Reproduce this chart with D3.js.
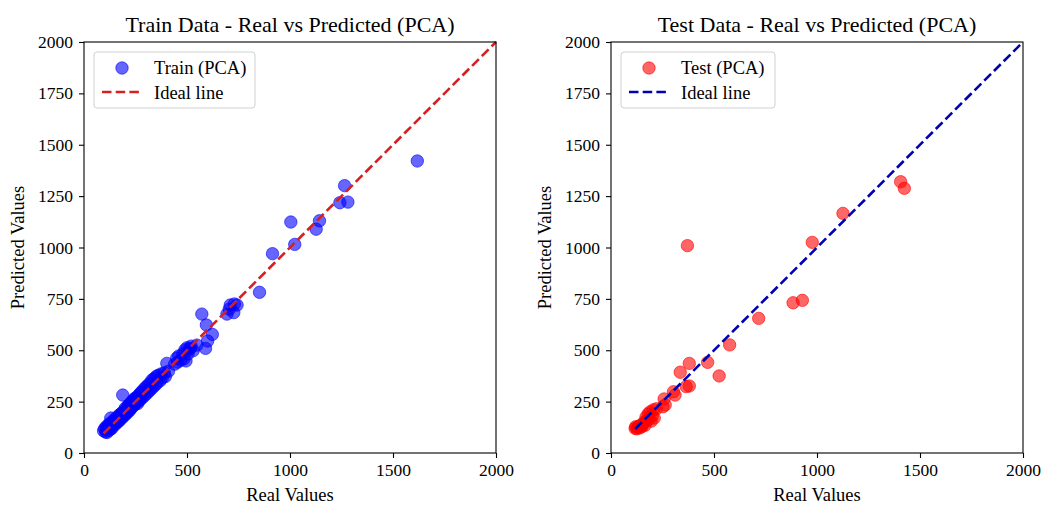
<!DOCTYPE html>
<html>
<head>
<meta charset="utf-8">
<script src="https://cdn.jsdelivr.net/npm/d3@7"></script>
<style>
  body { margin: 0; background: #fff; }
  text { font-family: "Liberation Serif", "Times New Roman", serif; }
</style>
</head>
<body>
<svg id="chart"></svg>
<script>
// train set: [real, predicted]
let trainPoints = [
  [95,108],[100,118],[105,102],[108,128],[110,120],[112,100],[118,130],[120,110],[120,140],[125,132],
  [128,115],[130,145],[130,170],[135,120],[140,155],[142,132],[145,148],[150,165],[152,138],[155,150],
  [160,175],[162,150],[165,168],[170,155],[172,185],[175,168],[180,192],[182,168],[185,195],[188,282],
  [190,176],[195,205],[198,185],[200,218],[205,190],[210,222],[212,200],[215,232],[220,205],[222,238],
  [225,215],[230,248],[232,220],[235,252],[240,230],[242,262],[245,235],[250,268],[255,245],[258,272],
  [260,240],[265,280],[270,255],[272,290],[275,265],[280,298],[285,270],[290,310],[295,280],[300,320],
  [305,290],[310,330],[315,300],[320,340],[325,310],[330,355],[335,320],[340,362],[345,330],[350,372],
  [355,340],[360,378],[370,352],[375,385],[380,365],[390,390],[395,372],[402,436],[410,398],
  [440,432],[450,462],[455,442],[460,472],[470,452],[480,482],[485,458],[490,502],[495,448],[500,512],
  [505,482],[510,505],[516,509],[520,520],[530,498],[548,525],[572,676],[590,509],[594,623],[600,545],
  [623,577],[694,676],[705,700],[710,720],[727,683],[730,725],[743,720],[852,782],[915,970],[1004,1124],
  [1023,1015],[1127,1089],[1143,1130],[1242,1218],[1265,1301],[1281,1221],[1618,1421]
];

// test set: [real, predicted]
let testPoints = [
  [117,120],[120,128],[125,118],[130,125],[135,130],[140,122],[145,135],[150,128],[155,140],[160,150],
  [165,135],[170,175],[175,160],[180,190],[185,165],[190,200],[195,155],[200,180],[205,210],[210,170],
  [220,215],[252,225],[258,263],[263,234],[303,298],[311,282],[336,393],[365,323],[380,326],[380,436],
  [371,1009],[469,441],[525,375],[576,526],[717,655],[884,731],[929,743],[977,1025],[1126,1166],
  [1406,1320],[1424,1288]
];

let trainIdeal = [95, 2000];
let testIdeal = [117, 2000];
let axisTicks = [0, 500, 1000, 1500, 2000];
let yTicks = [0, 250, 500, 750, 1000, 1250, 1500, 1750, 2000];

let width = 1044, height = 506;

const svg = d3.select('#chart')
  .attr('width', width)
  .attr('height', height);

function panel(opts) {
  let x = d3.scaleLinear().domain([0, 2000]).range([opts.left, opts.left + 412]);
  let y = d3.scaleLinear().domain([0, 2000]).range([453, 42]);

  let g = svg.append('g');

  // title
  g.append('text')
    .attr('x', (x.range()[0] + x.range()[1]) / 2)
    .attr('y', 32)
    .attr('text-anchor', 'middle')
    .style('font-size', '22px')
    .text(opts.title);

  // axes
  let xAxis = d3.axisBottom(x).tickValues(axisTicks).tickSize(5).tickPadding(6).tickFormat(d3.format('d'));
  let yAxis = d3.axisLeft(y).tickValues(yTicks).tickSize(5).tickPadding(6).tickFormat(d3.format('d'));

  g.append('g')
    .attr('transform', `translate(0,${y(0)})`)
    .call(xAxis)
    .call(a => a.select('.domain').remove())
    .selectAll('text').style('font-size', '17.5px').style('font-family', '"Liberation Serif", serif').attr('fill', '#000');

  g.append('g')
    .attr('transform', `translate(${x(0)},0)`)
    .call(yAxis)
    .call(a => a.select('.domain').remove())
    .selectAll('text').style('font-size', '17.5px').style('font-family', '"Liberation Serif", serif').attr('fill', '#000');

  g.selectAll('.tick line').attr('stroke', '#000').attr('stroke-width', 1.1);

  // axis labels
  g.append('text')
    .attr('x', (x.range()[0] + x.range()[1]) / 2)
    .attr('y', 501)
    .attr('text-anchor', 'middle')
    .style('font-size', '18.5px')
    .text('Real Values');

  g.append('text')
    .attr('transform', `translate(${opts.left - 60},${(y(0) + y(2000)) / 2}) rotate(-90)`)
    .attr('text-anchor', 'middle')
    .style('font-size', '18.5px')
    .text('Predicted Values');

  // points
  g.append('g')
    .selectAll('circle')
    .data(opts.points)
    .enter()
    .append('circle')
    .attr('cx', d => x(d[0]))
    .attr('cy', d => y(d[1]))
    .attr('r', 6.2)
    .attr('fill', opts.fill)
    .attr('fill-opacity', 0.6)
    .attr('stroke', opts.fill)
    .attr('stroke-opacity', 0.6)
    .attr('stroke-width', 1);

  // ideal line
  g.append('line')
    .attr('x1', x(opts.ideal[0])).attr('y1', y(opts.ideal[0]))
    .attr('x2', x(opts.ideal[1])).attr('y2', y(opts.ideal[1]))
    .attr('stroke', opts.lineColor)
    .attr('stroke-width', 2.6)
    .attr('stroke-dasharray', '9.5,4.2');

  // frame
  g.append('rect')
    .attr('x', x(0)).attr('y', y(2000))
    .attr('width', x(2000) - x(0)).attr('height', y(0) - y(2000))
    .attr('fill', 'none')
    .attr('stroke', '#000')
    .attr('stroke-width', 1.1);

  // legend
  let lx = x(0) + 10, ly = y(2000) + 10;
  let lg = g.append('g').attr('transform', `translate(${lx},${ly})`);
  lg.append('rect')
    .attr('width', opts.legendWidth).attr('height', 56)
    .attr('rx', 3)
    .attr('fill', '#fff').attr('fill-opacity', 0.8)
    .attr('stroke', '#d0d0d0');
  lg.append('circle')
    .attr('cx', 28).attr('cy', 16).attr('r', 6.2)
    .attr('fill', opts.fill).attr('fill-opacity', 0.6)
    .attr('stroke', opts.fill).attr('stroke-opacity', 0.6);
  lg.append('text')
    .attr('x', 60).attr('y', 22)
    .style('font-size', '18.5px')
    .text(opts.label);
  lg.append('line')
    .attr('x1', 8).attr('x2', 45).attr('y1', 40).attr('y2', 40)
    .attr('stroke', opts.lineColor).attr('stroke-width', 2.6)
    .attr('stroke-dasharray', '9.5,4.2');
  lg.append('text')
    .attr('x', 60).attr('y', 47)
    .style('font-size', '18.5px')
    .text('Ideal line');
}

panel({
  left: 84,
  title: 'Train Data - Real vs Predicted (PCA)',
  points: trainPoints,
  ideal: trainIdeal,
  fill: '#0000ff',
  lineColor: '#d62020',
  label: 'Train (PCA)',
  legendWidth: 161
});

panel({
  left: 611,
  title: 'Test Data - Real vs Predicted (PCA)',
  points: testPoints,
  ideal: testIdeal,
  fill: '#ff0000',
  lineColor: '#0000b0',
  label: 'Test (PCA)',
  legendWidth: 154
});
</script>
</body>
</html>
